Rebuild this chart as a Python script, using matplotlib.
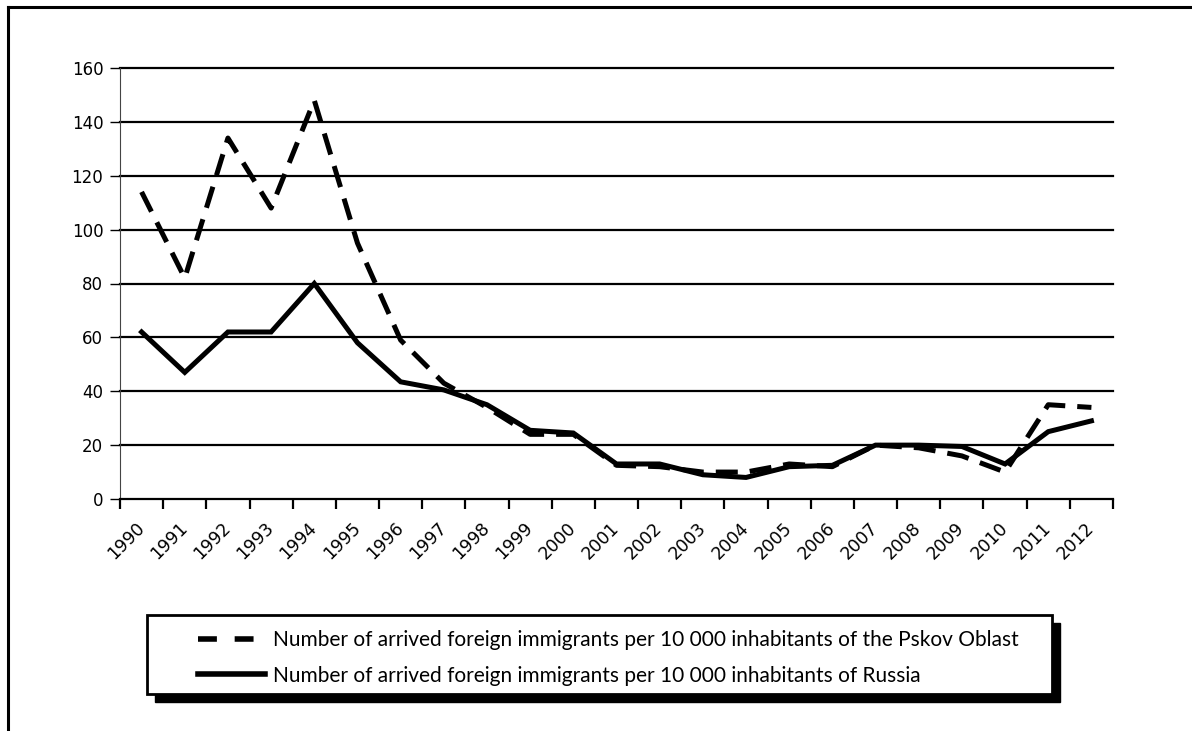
import matplotlib.pyplot as plt
import matplotlib.patches as mpatches
from matplotlib.lines import Line2D
import numpy as np

years = [str(y) for y in range(1990, 2013)]
pskov = [114, 82, 134, 108, 148, 95, 59, 43, 34, 24, 24, 12.5, 12, 10, 10, 13, 12,
         20, 19, 16, 10, 35, 34]
russia = [62, 47, 62, 62, 80, 58, 43.5, 40.5, 35, 25.5, 24.5, 13, 13, 9, 8, 12, 12.5,
          20, 20, 19.5, 13, 25, 29]
yticks = [0, 20, 40, 60, 80, 100, 120, 140, 160]
label_pskov = 'Number of arrived foreign immigrants per 10 000 inhabitants of the Pskov Oblast'
label_russia = 'Number of arrived foreign immigrants per 10 000 inhabitants of Russia'

W, H = 1192, 731
fig = plt.figure(figsize=(W / 100, H / 100), dpi=100)

# outer frame (top and left edges only)
fig.add_artist(Line2D([8 / W, 1], [1 - 7 / H, 1 - 7 / H], color='black', lw=2.2))
fig.add_artist(Line2D([8 / W, 8 / W], [0, 1 - 7 / H], color='black', lw=2.2))

ax = fig.add_axes([120 / W, 1 - 499 / H, (1113 - 120) / W, (499 - 68) / H])
x = np.arange(len(years))

ax.plot(x, pskov, color='black', lw=3.6, linestyle=(0, (4.4, 2.4)), zorder=3)
ax.plot(x, russia, color='black', lw=3.6, solid_joinstyle='miter', zorder=4)

ax.set_xlim(-0.5, len(years) - 0.5)
ax.set_ylim(0, 160)
ax.set_yticks(yticks)
ax.set_yticklabels([str(v) for v in yticks], fontsize=12, family='DejaVu Sans')
ax.set_xticks(x)
ax.set_xticklabels(years, rotation=45, ha='right', va='center', rotation_mode='anchor',
                   fontsize=12.5, family='DejaVu Sans')
ax.tick_params(axis='x', length=0, pad=19)
ax.set_xticks(np.arange(-0.5, len(years)), minor=True)
ax.tick_params(axis='x', which='minor', length=7, width=1.6, direction='out')
ax.tick_params(axis='y', length=7, width=1.0, direction='out', pad=5)

for v in yticks[1:]:
    ax.axhline(v, color='black', lw=1.6, zorder=1, clip_on=False)

for s in ['top', 'right']:
    ax.spines[s].set_visible(False)
ax.spines['left'].set_linewidth(0.8)
ax.spines['left'].set_color('#444444')
ax.spines['bottom'].set_linewidth(1.6)

# legend box with shadow
bx0, by0, bx1, by1 = 147, 615, 1052, 694
sh = 8
fig.add_artist(mpatches.Rectangle(((bx0 + sh) / W, 1 - (by1 + sh) / H), (bx1 - bx0) / W,
                                  (by1 - by0) / H, transform=fig.transFigure,
                                  facecolor='black', edgecolor='black'))
fig.add_artist(mpatches.Rectangle((bx0 / W, 1 - by1 / H), (bx1 - bx0) / W, (by1 - by0) / H,
                                  transform=fig.transFigure, facecolor='white',
                                  edgecolor='black', lw=2))

handles = [Line2D([], [], color='black', lw=4, linestyle=(0, (3.4, 3.2))),
           Line2D([], [], color='black', lw=4)]
leg = fig.legend(handles, [label_pskov, label_russia], loc='upper left',
                 bbox_to_anchor=(198 / W, 1 - 630 / H), frameon=False,
                 borderpad=0, borderaxespad=0,
                 prop={'family': 'Lato', 'size': 15}, handlelength=3.2,
                 handletextpad=0.4, labelspacing=0.75)
leg.set_zorder(10)

plt.savefig('out.png', dpi=100)
